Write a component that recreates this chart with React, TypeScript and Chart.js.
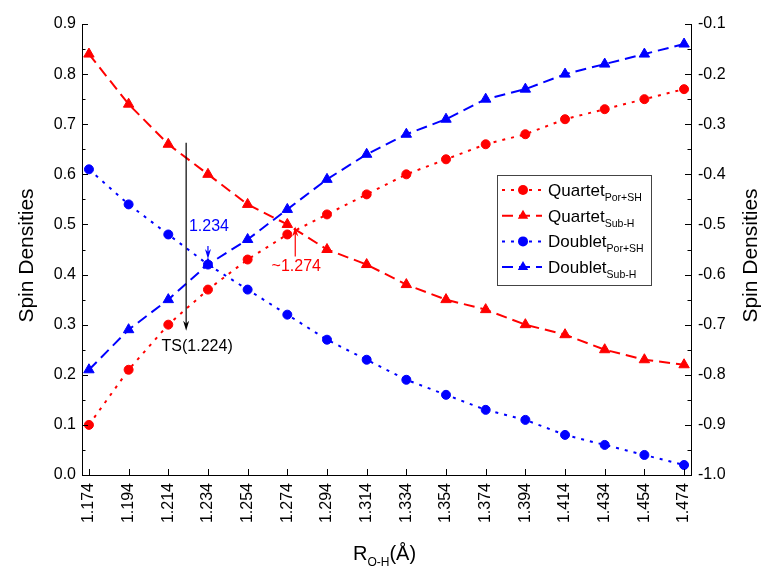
import React, { useEffect, useRef } from "react";
import { Chart, registerables } from "chart.js";

Chart.register(...registerables);

const xLabels = ["1.174", "1.194", "1.214", "1.234", "1.254", "1.274", "1.294", "1.314", "1.334", "1.354", "1.374", "1.394", "1.414", "1.434", "1.454", "1.474"];
const quartetPorSH = [0.10, 0.21, 0.30, 0.37, 0.43, 0.48, 0.52, 0.56, 0.60, 0.63, 0.66, 0.68, 0.71, 0.73, 0.75, 0.77];
const quartetSubH = [0.84, 0.74, 0.66, 0.60, 0.54, 0.50, 0.45, 0.42, 0.38, 0.35, 0.33, 0.30, 0.28, 0.25, 0.23, 0.22];
const doubletPorSH = [0.61, 0.54, 0.48, 0.42, 0.37, 0.32, 0.27, 0.23, 0.19, 0.16, 0.13, 0.11, 0.08, 0.06, 0.04, 0.02];
const doubletSubH = [-0.79, -0.71, -0.65, -0.58, -0.53, -0.47, -0.41, -0.36, -0.32, -0.29, -0.25, -0.23, -0.20, -0.18, -0.16, -0.14];

const leftRange = [0, 0.9];
const rightRange = [-1.0, -0.1];

const seriesNames = ["Quartet", "Quartet", "Doublet", "Doublet"];
const seriesSubs = ["Por+SH", "Sub-H", "Por+SH", "Sub-H"];

// annotation arrows (data coordinates): x, y start, y end (tip)
const tsArrow = { x: 1.223, y0: 0.663, y1: 0.288, text: "TS(1.224)", color: "#000000" };
const blueArrow = { x: 1.234, y0: 0.457, y1: 0.431, text: "1.234", color: "#0000ff" };
const redArrow = { x: 1.278, y0: 0.436, y1: 0.496, text: "~1.274", color: "#ff0000" };

const FONT = "'Liberation Sans', Arial, sans-serif";
const RED = "#ff0000";
const BLUE = "#0000ff";
const DOTTED = [3, 6];
const DASHED = [11, 6];

function drawMarker(ctx: CanvasRenderingContext2D, style: string, x: number, y: number, color: string) {
  ctx.save();
  ctx.fillStyle = color;
  ctx.beginPath();
  if (style === "circle") {
    ctx.arc(x, y, 5, 0, Math.PI * 2);
  } else {
    const r = 6;
    let a = 0;
    ctx.moveTo(x + Math.sin(a) * r, y - Math.cos(a) * r);
    a += (2 * Math.PI) / 3;
    ctx.lineTo(x + Math.sin(a) * r, y - Math.cos(a) * r);
    a += (2 * Math.PI) / 3;
    ctx.lineTo(x + Math.sin(a) * r, y - Math.cos(a) * r);
    ctx.closePath();
  }
  ctx.fill();
  ctx.restore();
}

function drawArrow(ctx: CanvasRenderingContext2D, x: number, ya: number, yb: number, color: string) {
  const dir = yb > ya ? 1 : -1;
  const headLen = 10;
  const headHalf = 3;
  ctx.save();
  ctx.strokeStyle = color;
  ctx.fillStyle = color;
  ctx.lineWidth = 1.2;
  ctx.beginPath();
  ctx.moveTo(x, ya);
  ctx.lineTo(x, yb - dir * headLen * 0.6);
  ctx.stroke();
  ctx.beginPath();
  ctx.moveTo(x, yb);
  ctx.lineTo(x - headHalf, yb - dir * headLen);
  ctx.lineTo(x, yb - dir * headLen * 0.7);
  ctx.lineTo(x + headHalf, yb - dir * headLen);
  ctx.closePath();
  ctx.fill();
  ctx.restore();
}

const decorPlugin = {
  id: "decor",
  afterDraw(chart: any) {
    const ctx: CanvasRenderingContext2D = chart.ctx;
    const { left, right, top, bottom } = chart.chartArea;
    const xs = chart.scales.x;
    const yl = chart.scales.y;
    const yr = chart.scales.y1;
    ctx.save();
    ctx.strokeStyle = "#000";
    ctx.lineWidth = 1;
    // inward ticks on y axes (major + minor)
    for (let i = 0; i <= 18; i++) {
      const v = leftRange[0] + i * 0.05;
      const len = i % 2 === 0 ? 6 : 3.5;
      const py = Math.round(yl.getPixelForValue(v)) + 0.5;
      ctx.beginPath();
      ctx.moveTo(left, py);
      ctx.lineTo(left + len, py);
      ctx.stroke();
      const vr = rightRange[0] + i * 0.05;
      const pyr = Math.round(yr.getPixelForValue(vr)) + 0.5;
      ctx.beginPath();
      ctx.moveTo(right, pyr);
      ctx.lineTo(right - len, pyr);
      ctx.stroke();
    }
    // inward ticks on x axis
    xLabels.forEach((l) => {
      const px = Math.round(xs.getPixelForValue(parseFloat(l))) + 0.5;
      ctx.beginPath();
      ctx.moveTo(px, bottom);
      ctx.lineTo(px, bottom - 6);
      ctx.stroke();
    });
    ctx.restore();

    // axis titles
    ctx.save();
    ctx.fillStyle = "#000";
    ctx.font = `21px ${FONT}`;
    ctx.textAlign = "center";
    ctx.textBaseline = "middle";
    ctx.save();
    ctx.translate(27, (top + bottom) / 2 + 6);
    ctx.rotate(-Math.PI / 2);
    ctx.fillText("Spin Densities", 0, 0);
    ctx.restore();
    ctx.save();
    ctx.translate(751, (top + bottom) / 2 + 6);
    ctx.rotate(-Math.PI / 2);
    ctx.fillText("Spin Densities", 0, 0);
    ctx.restore();
    // x title R_O-H(Å)
    ctx.textBaseline = "alphabetic";
    ctx.textAlign = "left";
    const mainFont = `20px ${FONT}`;
    const subFont = `12px ${FONT}`;
    ctx.font = mainFont;
    const wR = ctx.measureText("R").width;
    const wP = ctx.measureText("(Å)").width;
    ctx.font = subFont;
    const wS = ctx.measureText("O-H").width;
    const total = wR + wS + wP;
    const cx = (left + right) / 2 - 2;
    let tx = cx - total / 2;
    const by = 560;
    ctx.font = mainFont;
    ctx.fillText("R", tx, by);
    tx += wR;
    ctx.font = subFont;
    ctx.fillText("O-H", tx, by + 6);
    tx += wS;
    ctx.font = mainFont;
    ctx.fillText("(Å)", tx, by);
    ctx.restore();

    // annotations
    const arrows = [tsArrow, blueArrow, redArrow];
    arrows.forEach((a) => {
      const px = xs.getPixelForValue(a.x);
      drawArrow(ctx, px, yl.getPixelForValue(a.y0), yl.getPixelForValue(a.y1), a.color);
    });
    ctx.save();
    ctx.font = `16px ${FONT}`;
    ctx.textAlign = "center";
    ctx.textBaseline = "middle";
    ctx.fillStyle = tsArrow.color;
    ctx.fillText(tsArrow.text, xs.getPixelForValue(tsArrow.x) + 11, yl.getPixelForValue(tsArrow.y1) + 16);
    ctx.fillStyle = blueArrow.color;
    ctx.fillText(blueArrow.text, xs.getPixelForValue(blueArrow.x) + 1, yl.getPixelForValue(blueArrow.y0) - 19);
    ctx.fillStyle = redArrow.color;
    ctx.fillText(redArrow.text, xs.getPixelForValue(redArrow.x) + 1, yl.getPixelForValue(redArrow.y0) + 10);
    ctx.restore();

    // legend
    const lx = 497, ly = 175, lw = 154, lh = 110;
    ctx.save();
    ctx.fillStyle = "#fff";
    ctx.fillRect(lx, ly, lw, lh);
    ctx.strokeStyle = "#444";
    ctx.lineWidth = 1;
    ctx.strokeRect(lx + 0.5, ly + 0.5, lw, lh);
    chart.data.datasets.forEach((ds: any, i: number) => {
      const rowY = ly + 15 + i * 25.7;
      ctx.save();
      ctx.strokeStyle = ds.borderColor;
      ctx.lineWidth = 2;
      ctx.setLineDash(ds.borderDash);
      ctx.beginPath();
      ctx.moveTo(lx + 5, rowY);
      ctx.lineTo(lx + 45, rowY);
      ctx.stroke();
      ctx.restore();
      drawMarker(ctx, ds.pointStyle, lx + 26, rowY, ds.borderColor);
      ctx.fillStyle = "#000";
      ctx.textAlign = "left";
      ctx.textBaseline = "alphabetic";
      ctx.font = `17px ${FONT}`;
      const tx0 = lx + 51;
      ctx.fillText(seriesNames[i], tx0, rowY + 6);
      const w = ctx.measureText(seriesNames[i]).width;
      ctx.font = `10.5px ${FONT}`;
      ctx.fillText(seriesSubs[i], tx0 + w, rowY + 11);
    });
    ctx.restore();
  },
};

export default function App() {
  const ref = useRef<HTMLCanvasElement | null>(null);
  useEffect(() => {
    if (!ref.current) return;
    Chart.defaults.font.family = FONT;
    Chart.defaults.font.size = 16;
    Chart.defaults.color = "#000";
    const xv = xLabels.map((l) => parseFloat(l));
    const mk = (ys: number[]) => ys.map((y, i) => ({ x: xv[i], y }));
    const chart = new Chart(ref.current, {
      type: "line",
      data: {
        datasets: [
          { label: "Quartet Por+SH", data: mk(quartetPorSH), yAxisID: "y", borderColor: RED, backgroundColor: RED, borderDash: DOTTED, pointStyle: "circle", pointRadius: 4.5, borderWidth: 2, pointBorderWidth: 1 },
          { label: "Quartet Sub-H", data: mk(quartetSubH), yAxisID: "y", borderColor: RED, backgroundColor: RED, borderDash: DASHED, pointStyle: "triangle", pointRadius: 6, borderWidth: 2, pointBorderWidth: 1 },
          { label: "Doublet Por+SH", data: mk(doubletPorSH), yAxisID: "y", borderColor: BLUE, backgroundColor: BLUE, borderDash: DOTTED, pointStyle: "circle", pointRadius: 4.5, borderWidth: 2, pointBorderWidth: 1 },
          { label: "Doublet Sub-H", data: mk(doubletSubH), yAxisID: "y1", borderColor: BLUE, backgroundColor: BLUE, borderDash: DASHED, pointStyle: "triangle", pointRadius: 6, borderWidth: 2, pointBorderWidth: 1 },
        ] as any,
      },
      options: {
        responsive: false,
        animation: false,
        layout: { padding: { top: 24, left: 0, right: 0, bottom: 0 } },
        plugins: { legend: { display: false }, tooltip: { enabled: false } },
        scales: {
          x: {
            type: "linear",
            min: 1.1705,
            max: 1.4775,
            afterBuildTicks: (s: any) => {
              s.ticks = xv.map((v) => ({ value: v }));
            },
            afterFit: (s: any) => {
              s.height = 96;
            },
            grid: { display: false, drawTicks: false },
            border: { display: true, color: "#000", width: 1 },
            ticks: {
              autoSkip: false,
              minRotation: 90,
              maxRotation: 90,
              padding: 8,
              font: { size: 16 },
              callback: (_v: any, i: number) => xLabels[i],
            },
          },
          y: {
            type: "linear",
            position: "left",
            min: leftRange[0],
            max: leftRange[1],
            afterFit: (s: any) => {
              s.width = 82;
            },
            grid: { display: false, drawTicks: false },
            border: { display: true, color: "#000", width: 1 },
            ticks: { stepSize: 0.1, padding: 6, font: { size: 16 }, callback: (v: any) => Number(v).toFixed(1) },
          },
          y1: {
            type: "linear",
            position: "right",
            min: rightRange[0],
            max: rightRange[1],
            afterFit: (s: any) => {
              s.width = 76;
            },
            grid: { display: false, drawTicks: false },
            border: { display: true, color: "#000", width: 1 },
            ticks: { stepSize: 0.1, padding: 7, font: { size: 16 }, callback: (v: any) => Number(v).toFixed(1) },
          },
        },
      } as any,
      plugins: [decorPlugin],
    });
    return () => chart.destroy();
  }, []);
  return (
    <div style={{ position: "fixed", left: 0, top: 0, width: 767, height: 571, background: "#fff" }}>
      <canvas ref={ref} width={767} height={571} style={{ display: "block" }} />
    </div>
  );
}
